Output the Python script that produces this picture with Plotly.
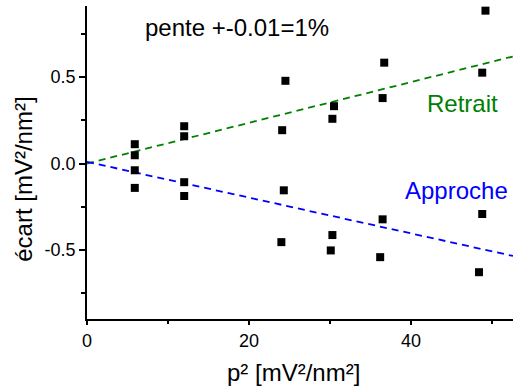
import plotly.graph_objects as go

# data
p2 = [5.9, 5.9, 5.9, 5.9, 12.0, 12.0, 12.0, 12.0,
      24.5, 24.1, 24.3, 24.0, 30.5, 30.3, 30.3, 30.1,
      36.7, 36.5, 36.5, 36.2, 49.2, 48.8, 48.8, 48.4]
ecart = [0.112, 0.048, -0.039, -0.141, 0.216, 0.158, -0.108, -0.188,
         0.479, 0.193, -0.155, -0.455, 0.332, 0.259, -0.414, -0.503,
         0.584, 0.379, -0.323, -0.542, 0.885, 0.526, -0.292, -0.629]

fit_x = [0.0, 52.6]
retrait_y = [0.0, 0.62]
approche_y = [0.01, -0.535]

font_family = "Liberation Sans, Arial, sans-serif"

fig = go.Figure()
fig.add_trace(go.Scatter(x=fit_x, y=retrait_y, mode="lines",
                         line=dict(color="#008000", width=1.8, dash="7px,5px"),
                         showlegend=False, hoverinfo="skip"))
fig.add_trace(go.Scatter(x=fit_x, y=approche_y, mode="lines",
                         line=dict(color="#0000FF", width=1.8, dash="7px,5px"),
                         showlegend=False, hoverinfo="skip"))
fig.add_trace(go.Scatter(x=p2, y=ecart, mode="markers",
                         marker=dict(symbol="square", size=8, color="black"),
                         showlegend=False))

fig.update_layout(
    width=514, height=389,
    margin=dict(l=86.5, r=1, t=6, b=70),
    paper_bgcolor="white", plot_bgcolor="white",
    font=dict(family=font_family, color="black"),
    xaxis=dict(range=[0, 52.6], showgrid=False, zeroline=False,
               showline=True, linecolor="black", linewidth=1.8,
               ticks="outside", ticklen=4.5, tickwidth=1.8, tickcolor="black",
               tickvals=[0, 20, 40], tickfont=dict(size=18),
               minor=dict(tickvals=[10, 30, 50], ticks="outside", ticklen=3,
                          tickwidth=1.8, tickcolor="black")),
    yaxis=dict(range=[-0.9, 0.912], showgrid=False, zeroline=False,
               showline=True, linecolor="black", linewidth=1.8,
               ticks="outside", ticklen=6, tickwidth=1.8, tickcolor="black",
               tickvals=[-0.5, 0.0, 0.5], ticktext=["-0.5", "0.0", "0.5"],
               tickfont=dict(size=18),
               minor=dict(tickvals=[-0.75, -0.25, 0.25, 0.75], ticks="outside",
                          ticklen=4, tickwidth=1.8, tickcolor="black")),
    annotations=[
        dict(text="pente +-0.01=1%", x=18.5, y=0.79, xref="x", yref="y",
             showarrow=False, font=dict(size=24, color="black"),
             xanchor="center", yanchor="middle"),
        dict(text="Retrait", x=46.4, y=0.35, xref="x", yref="y",
             showarrow=False, font=dict(size=24, color="#008000"),
             xanchor="center", yanchor="middle"),
        dict(text="Approche", x=45.6, y=-0.155, xref="x", yref="y",
             showarrow=False, font=dict(size=24, color="#0000FF"),
             xanchor="center", yanchor="middle"),
        dict(text="p² [mV²/nm²]", x=0.485, y=-0.17, xref="paper", yref="paper",
             showarrow=False, font=dict(size=24, color="black"),
             xanchor="center", yanchor="middle"),
        dict(text="écart [mV²/nm²]", x=-0.151, y=0.447, xref="paper", yref="paper",
             showarrow=False, textangle=-90, font=dict(size=24, color="black"),
             xanchor="center", yanchor="middle"),
    ],
)

fig.write_html(
    "out.html",
    config={"displayModeBar": False},
    post_script="document.body.style.margin='0';document.body.style.overflow='hidden';",
)
